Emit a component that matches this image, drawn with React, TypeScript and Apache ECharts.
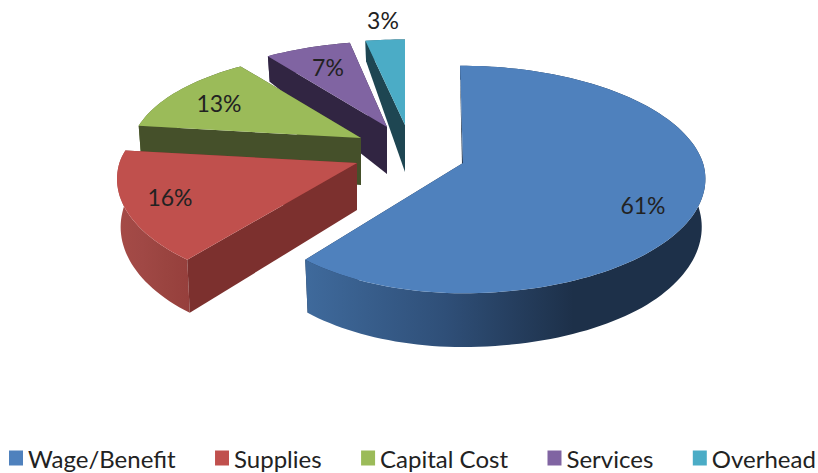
import React, { useEffect, useRef } from "react";
import * as echarts from "echarts";

const categories = ["Wage/Benefit", "Supplies", "Capital Cost", "Services", "Overhead"];
const shares = [61, 16, 13, 7, 3];
const topColors = ["#4F81BD", "#C0504D", "#9BBB59", "#8064A2", "#4BACC6"];
const cutColors = ["#1D3049", "#7C302E", "#45502A", "#312542", "#1E4652"];
const rimStops = [
  ["#3F6A9C", "#2F4F78", "#1D3049", "#1D3049"],
  ["#A54B47", "#A04845", "#9A4440", "#963F3C"],
  ["#5C7035", "#5C7035", "#45502A", "#45502A"],
  ["#4D3C62", "#4D3C62", "#312542", "#312542"],
  ["#2D6777", "#2D6777", "#1E4652", "#1E4652"],
];
// per-slice placement of the exploded pieces: apex on screen and local scale
const layouts = [
  { ax: 463, ay: 163, left: 0.92, right: 1, up: 0.99, down: 1, skew: 0.03, lx: 643, ly: 205 },
  { ax: 357, ay: 163, left: 0.99, right: 1, up: 0.9, down: 1, skew: 0, lx: 170, ly: 197 },
  { ax: 361, ay: 138, left: 0.95, right: 1, up: 0.88, down: 1, skew: 0, lx: 219, ly: 103 },
  { ax: 387, ay: 127, left: 0.94, right: 1, up: 0.87, down: 1, skew: 0, lx: 328, ly: 67 },
  { ax: 405, ay: 125, left: 1, right: 1, up: 0.87, down: 1, skew: 0, lx: 383, ly: 20 },
];
const RX = 240;
const RY = 112;
const PERSP = 0.14;
// vertical thickness of the pie as a function of the screen offset from the apex
const depthTable = [
  [-110, 8],
  [-85, 20],
  [-60, 30],
  [0, 47],
  [90, 53],
  [140, 54],
];

function thickness(v: number) {
  if (v <= depthTable[0][0]) return depthTable[0][1];
  for (let i = 1; i < depthTable.length; i++) {
    const [a, da] = depthTable[i - 1];
    const [b, db] = depthTable[i];
    if (v <= b) return da + ((db - da) * (v - a)) / (b - a);
  }
  return depthTable[depthTable.length - 1][1];
}

function makeRender(index: number) {
  return (_params: any, api: any) => {
    const total = shares.reduce((s, v) => s + v, 0);
    const before = shares.slice(0, index).reduce((s, v) => s + v, 0);
    const value = api.value(0);
    const a0 = (before / total) * Math.PI * 2;
    const a1 = ((before + value) / total) * Math.PI * 2;
    const L = layouts[index];
    const offset = (t: number) => {
      const X = Math.sin(t);
      const Y = -Math.cos(t);
      const w = 1 / (1 - PERSP * Y);
      const dy = RY * Y * w * (Y < 0 ? L.up : L.down);
      const dx = RX * X * w * (X < 0 ? L.left : L.right) + (dy < 0 ? L.skew * dy : 0);
      return [dx, dy];
    };
    const lower = (dx: number, dy: number) => [L.ax + dx * 0.985, L.ay + dy + thickness(dy)];
    const steps = Math.max(8, Math.ceil((a1 - a0) / 0.03));
    const topArc: number[][] = [];
    const botArc: number[][] = [];
    for (let i = 0; i <= steps; i++) {
      const [dx, dy] = offset(a0 + ((a1 - a0) * i) / steps);
      topArc.push([L.ax + dx, L.ay + dy]);
      botArc.push(lower(dx, dy));
    }
    const apexTop = [L.ax, L.ay];
    const apexBot = lower(0, 0);
    const cut = cutColors[index];
    const stops = rimStops[index];
    const poly = (points: number[][], fill: any) => ({
      type: "polygon",
      shape: { points },
      style: { fill, stroke: "none" },
    });
    return {
      type: "group",
      children: [
        poly([topArc[topArc.length - 1], apexTop, apexBot, botArc[botArc.length - 1]], cut),
        poly([...topArc, ...botArc.slice().reverse()], {
          type: "linear",
          x: 0,
          y: 0,
          x2: 1,
          y2: 0,
          colorStops: [
            { offset: 0, color: stops[0] },
            { offset: 0.35, color: stops[1] },
            { offset: 0.67, color: stops[2] },
            { offset: 1, color: stops[3] },
          ],
        }),
        poly([topArc[0], apexTop, apexBot, botArc[0]], cut),
        poly([apexTop, ...topArc], topColors[index]),
        {
          type: "text",
          style: {
            text: `${value}%`,
            x: L.lx,
            y: L.ly,
            align: "center",
            verticalAlign: "middle",
            fill: "#222222",
            font: '23px Lato, "Open Sans", sans-serif',
          },
        },
      ],
    };
  };
}

export default function App() {
  const ref = useRef<HTMLDivElement>(null);
  useEffect(() => {
    document.body.style.margin = "0";
    const chart = echarts.init(ref.current!, null, { renderer: "svg" });
    chart.setOption({
      animation: false,
      backgroundColor: "#ffffff",
      legend: {
        data: categories,
        left: 9,
        top: 446,
        width: 809,
        padding: 0,
        icon: "rect",
        itemWidth: 14,
        itemHeight: 15,
        itemGap: 39.5,
        selectedMode: false,
        textStyle: { fontFamily: "Lato", fontSize: 24, color: "#222222" },
      },
      series: categories.map((name, i) => ({
        type: "custom",
        name,
        coordinateSystem: "none",
        silent: true,
        z: 10 - i,
        itemStyle: { color: topColors[i] },
        data: [[shares[i]]],
        renderItem: makeRender(i),
      })),
    });
    return () => chart.dispose();
  }, []);
  return <div ref={ref} style={{ position: "absolute", left: 0, top: 0, width: 818, height: 473 }} />;
}
